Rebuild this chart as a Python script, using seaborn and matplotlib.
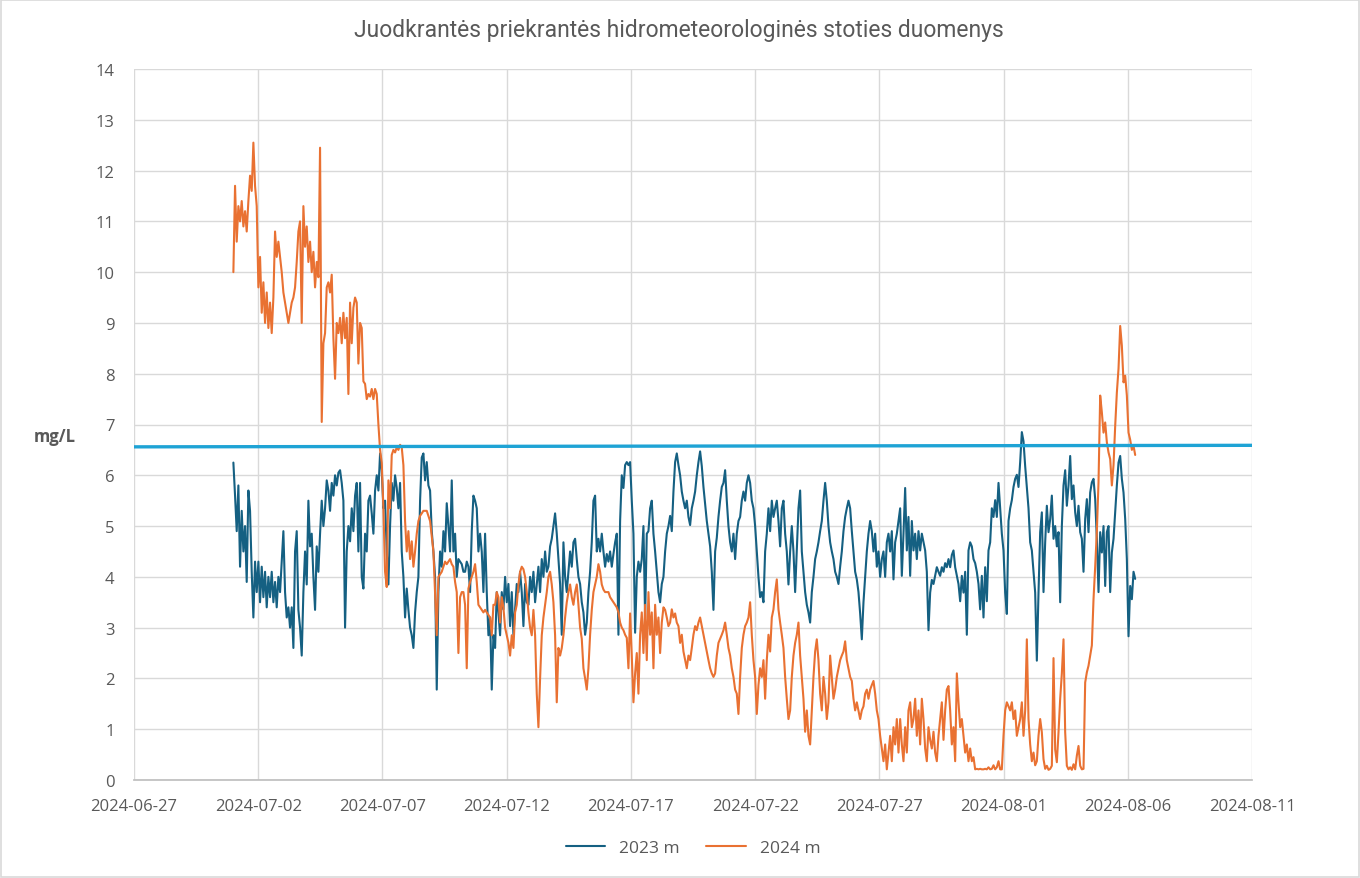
import pandas as pd
import matplotlib
matplotlib.use('Agg')
import matplotlib.pyplot as plt
import matplotlib.dates as mdates
from matplotlib.patches import Rectangle
from matplotlib import font_manager
import seaborn as sns

# ištirpusio deguonies matavimai, mg/L (nuskaityta nuo grafiko)
start_time = '2024-07-01 00:00'
step_seconds = 5797

values_2023 = [
    6.25, 5.6, 4.9, 5.8, 4.2, 5.3, 4.5, 5.0, 3.9, 5.7, 5.3, 4.1, 3.2, 4.3, 3.7, 4.3, 3.5, 4.2, 3.6, 4.1,
    3.4, 4.0, 3.6, 4.1, 3.5, 3.9, 3.4, 4.0, 3.7, 4.3, 4.9, 3.7, 3.2, 3.4, 3.0, 3.4, 2.6, 4.5, 4.9, 3.35,
    3.0, 2.45, 3.7, 4.5, 3.85, 5.5, 4.6, 4.85, 4.0, 3.35, 4.6, 4.1, 4.85, 5.5, 5.0, 5.35, 5.9, 5.7, 5.3, 5.85,
    5.6, 6.0, 5.8, 6.05, 6.1, 5.85, 5.5, 3.0, 4.5, 5.0, 4.7, 5.35, 4.9, 5.6, 5.85, 4.5,
    5.85, 4.0, 3.77, 4.85, 4.5, 5.5, 5.6, 5.25, 4.85, 5.7, 6.0, 5.7, 6.43, 6.1, 5.35, 5.5, 4.5, 3.85, 5.0, 5.85,
    5.5, 6.0, 5.75, 5.35, 5.85, 4.5, 4.0, 3.2, 3.77, 3.35, 3.0, 2.85, 2.6, 3.3, 3.7, 4.0, 5.5, 6.35, 6.43, 5.9,
    6.26, 5.8, 5.7, 4.9, 4.5, 4.0, 1.78, 3.7, 4.5, 4.2, 4.9, 4.5, 5.45, 5.0, 4.5, 5.9, 4.5, 4.85, 4.0, 4.35,
    4.3, 4.25, 4.1, 4.1, 4.3, 4.2, 3.7, 4.9, 5.6, 5.5, 5.35, 4.5, 4.85, 4.5, 3.7, 4.85, 3.7, 2.85, 3.2, 1.78, 2.85,
    2.6, 3.7, 3.3, 2.85, 3.7, 3.36, 4.0, 3.5, 3.86, 3.03, 3.7, 2.86, 3.36, 3.86, 3.7, 4.1, 3.7, 3.03, 3.86, 3.5,
    3.45, 4.0, 3.7, 4.1, 3.5, 3.86, 4.2, 3.7, 4.35, 4.0, 4.5, 4.1, 4.2, 4.6, 4.75, 5.0, 5.25, 4.85, 4.35, 3.86,
    2.86, 4.68, 4.0, 3.7, 4.1, 4.5, 4.2, 4.68, 4.75, 4.35, 4.0, 3.86, 3.5, 3.3, 2.86, 3.1, 3.7, 4.1, 4.68, 5.5,
    5.6, 4.5, 4.75, 4.5, 4.85, 4.5, 4.2, 4.45, 4.3, 4.5, 4.2, 4.45, 4.68, 4.85, 2.86, 5.1, 6.0, 5.75, 6.2, 6.26, 6.2,
    6.26, 5.5, 4.85, 2.9, 4.0, 4.3, 4.1, 4.35, 5.0, 3.2, 4.85, 4.9, 5.35, 5.5, 4.85, 4.5, 4.1, 3.7, 3.5, 3.86,
    4.0, 4.5, 4.85, 5.0, 5.2, 4.9, 5.68, 6.26, 6.43, 6.2, 6.0, 5.68, 5.5, 5.35, 5.5, 5.18, 5.02, 5.35, 5.5, 5.68,
    6.0, 6.26, 6.47, 6.18, 5.77, 5.43, 5.1, 4.85, 4.6, 4.1, 3.35, 4.5, 4.77, 5.18, 5.5, 5.77, 5.85, 6.1, 5.5, 5.0,
    4.68, 4.5, 4.85, 4.35, 4.85, 5.1, 5.18, 5.5, 5.68, 5.5, 5.85, 6.0, 5.85, 5.5, 5.35, 5.0, 4.5, 4.0, 3.6, 3.7, 3.5,
    4.5, 4.85, 5.35, 4.9, 5.5, 5.18, 5.35, 5.5, 5.1, 4.6, 5.35, 5.5, 4.85, 4.5, 3.85, 4.5, 5.0, 4.5, 3.7, 4.5,
    5.35, 5.7, 4.5, 4.1, 3.7, 3.45, 3.3, 3.1, 3.7, 4.0, 4.35, 4.5, 4.68, 4.9, 5.1, 5.5, 5.85, 5.5, 5.0, 4.68,
    4.5, 4.35, 4.1, 4.0, 3.86, 4.2, 4.5, 4.9, 5.18, 5.35, 5.5, 5.35, 4.9, 4.5, 4.1, 3.95, 3.7, 3.28, 2.77, 3.5,
    4.0, 4.5, 4.85, 5.1, 4.9, 4.5, 4.85, 4.2, 4.5, 4.0, 4.35, 4.5, 4.0, 4.68, 4.85, 4.5, 4.9, 3.95, 4.68, 4.85, 5.1,
    5.35, 4.02, 4.85, 5.75, 4.52, 5.18, 4.02, 5.1, 4.52, 4.85, 4.35, 4.9, 4.52, 4.85, 4.68, 4.52, 4.1, 2.95, 3.69, 3.94,
    3.86, 4.02, 4.19, 4.1, 4.02, 4.19, 4.1, 4.27, 4.19, 4.35, 4.19, 4.43, 4.52, 4.19, 4.02, 3.86, 3.52, 4.02, 3.69, 4.1,
    2.86, 4.52, 4.68, 4.6, 4.35, 4.27, 4.1, 3.86, 3.36, 4.02, 3.2, 4.19, 3.52, 4.52, 4.68, 5.35, 5.18, 5.51, 5.18, 5.85,
    5.35, 4.85, 4.52, 3.69, 3.27, 5.1, 5.35, 5.51, 5.77, 5.93, 6.01, 5.77, 6.26, 6.85, 6.67, 6.18, 5.77, 5.35, 4.68, 4.52,
    4.1, 3.69, 2.35, 3.69,
    4.88, 5.27, 3.7, 4.68, 5.4, 4.88, 5.14, 5.6, 4.75, 5.0, 4.6, 4.88, 3.5, 5.0, 5.8, 6.1, 5.4, 5.8, 6.38, 5.53,
    5.8, 5.27, 5.0, 5.4, 4.88, 4.75, 4.1, 5.14, 5.53, 4.88, 5.66, 5.86, 5.93, 5.53, 4.75, 3.7, 4.88, 4.48, 5.0, 3.82,
    4.88, 5.0, 3.7, 4.48, 4.75, 5.27, 5.8, 6.25, 6.38, 5.93, 5.66, 5.14, 4.35, 2.83, 3.82, 3.56, 4.1, 3.96,
]

values_2024 = [
    10.0, 11.7, 10.6, 11.3, 11.0, 11.4, 10.9, 11.2, 10.8, 11.4, 11.9, 11.6, 12.55, 11.7, 11.3, 9.7, 10.3, 9.2, 9.8, 9.0,
    9.6, 8.9, 9.4, 8.8, 9.5, 10.8, 10.3, 10.6, 10.3, 10.0, 9.6, 9.4, 9.2, 9.0, 9.2, 9.4, 9.5, 9.7, 10.2, 10.8,
    11.0, 9.0, 11.3, 10.5, 10.9, 10.2, 10.6, 10.0, 10.4, 9.7, 10.2, 9.9, 12.45, 7.05, 8.6, 8.8, 9.7, 9.8, 9.6, 9.95,
    8.7, 7.9, 9.0, 8.8, 9.1, 8.6, 9.2, 8.7, 9.1, 7.6, 9.4, 8.6, 9.3, 9.5, 9.4, 8.2,
    9.0, 8.9, 7.85, 7.8, 7.5, 7.6, 7.55, 7.7, 7.5, 7.7, 7.6, 7.0, 6.5, 6.25, 5.35, 4.1, 3.8, 5.9, 5.35, 6.4,
    6.5, 6.45, 6.55, 6.5, 6.6, 6.55, 6.2, 5.1, 4.5, 4.9, 4.35, 4.7, 4.2, 4.5, 4.85, 5.1, 5.2, 5.25, 5.3, 5.3,
    5.3, 5.2, 5.1, 4.8, 4.5, 3.7, 2.85, 4.0, 4.05, 4.1, 4.2, 4.3, 4.25, 4.3, 4.35, 4.25, 4.2, 3.9, 3.7, 2.5,
    3.6, 3.7, 3.7, 3.45, 2.2, 3.77, 3.9, 4.0, 4.1, 4.25, 3.9, 3.45, 3.4, 3.35, 3.3, 3.35, 3.3, 3.25, 3.2, 2.85, 3.45,
    3.45, 3.7, 3.6, 3.1, 3.6, 3.4, 3.0, 2.85, 2.7, 2.45, 2.85, 2.6, 3.3, 3.45, 3.85, 4.1, 4.2, 4.15, 4.0, 3.7,
    3.3, 3.0, 2.85, 3.35, 2.85, 1.7, 1.04, 2.0, 2.85, 3.2, 3.45, 3.7, 4.0, 4.1, 3.85, 3.5, 2.85, 1.53, 2.6, 2.45,
    2.6, 2.85, 3.2, 3.5, 3.7, 3.85, 3.6, 3.45, 3.7, 3.85, 3.45, 3.0, 2.78, 2.2, 2.0, 1.78, 2.2, 2.86, 3.35, 3.7,
    3.85, 4.0, 4.25, 4.1, 3.85, 3.75, 3.7, 3.7, 3.7, 3.6, 3.55, 3.5, 3.45, 3.4, 3.3, 3.1, 3.0, 2.95, 2.86, 2.8, 2.2,
    3.28, 2.45, 1.53, 2.1, 2.5, 1.7, 2.86, 3.3, 2.5, 3.45, 2.36, 3.7, 2.86, 3.3, 2.2, 3.45, 2.86, 3.2, 2.5, 3.1,
    3.4, 3.35, 3.2, 3.03, 3.1, 3.36, 3.2, 3.28, 3.1, 3.03, 2.7, 2.86, 2.53, 2.36, 2.2, 2.45, 2.36, 2.6, 2.86, 3.03,
    2.95, 3.1, 3.2, 3.03, 2.86, 2.7, 2.53, 2.36, 2.2, 2.1, 2.03, 2.1, 2.45, 2.7, 2.78, 2.86, 2.95, 3.1, 2.86, 2.6,
    2.45, 2.2, 2.03, 1.78, 1.7, 1.3, 2.03, 2.6, 2.86, 3.03, 3.1, 3.2, 3.5, 2.86, 2.36, 2.03, 1.3, 1.87, 2.2, 2.03, 2.36,
    1.6, 2.36, 2.86, 2.53, 3.2, 3.36, 3.7, 3.95, 3.36, 3.1, 2.86, 2.6, 2.03, 1.6, 1.2, 1.37, 2.03, 2.45, 2.7, 2.86,
    3.1, 2.45, 2.03, 1.6, 0.95, 1.37, 0.87, 0.7, 1.37, 2.03, 2.53, 2.77, 2.36, 1.7, 1.37, 2.03, 1.7, 1.2, 1.53, 2.45,
    2.03, 1.6, 1.78, 2.03, 2.2, 2.36, 2.45, 2.53, 2.73, 2.36, 2.2, 2.03, 1.95, 1.6, 1.37, 1.53, 1.37, 1.2, 1.37, 1.45,
    1.7, 1.78, 1.6, 1.78, 1.87, 1.95, 1.7, 1.37, 1.2, 0.87, 0.62, 0.37, 0.7, 0.21, 0.54, 0.87, 0.37, 1.04, 0.7, 1.2, 0.54,
    1.2, 0.7, 0.37, 1.04, 0.54, 1.37, 1.53, 1.04, 1.2, 1.6, 0.87, 1.37, 0.7, 1.6, 1.2, 0.62, 0.37, 1.04, 0.79, 0.62,
    0.95, 0.54, 0.37, 0.87, 1.2, 1.53, 0.79, 1.37, 1.78, 1.85, 1.37, 0.7, 1.04, 0.37, 2.1, 1.53, 1.04, 1.2, 0.87, 0.54,
    0.7, 0.37, 0.62, 0.37, 0.45, 0.21, 0.22, 0.21, 0.22, 0.21, 0.21, 0.22, 0.21, 0.25, 0.21, 0.22, 0.29, 0.21, 0.25, 0.37,
    0.21, 0.21, 0.87, 1.37, 1.53, 1.45, 1.37, 1.53, 1.2, 1.37, 0.87, 1.04, 1.2, 1.53, 0.87, 1.37, 2.77, 1.2, 0.7, 0.37,
    0.54, 0.29, 0.37, 0.87,
    1.2, 0.94, 0.41, 0.22, 0.28, 0.2, 0.22, 0.28, 2.4, 0.6, 0.35, 0.94, 1.6, 2.1, 2.77, 0.94, 0.28, 0.21, 0.25, 0.2,
    0.31, 0.21, 0.48, 0.67, 0.28, 0.21, 0.22, 1.92, 2.12, 2.25, 2.45, 2.65, 3.56, 4.2, 4.9, 5.86, 7.57, 7.24, 6.84, 7.04,
    6.65, 6.45, 6.32, 5.8, 6.2, 6.97, 7.63, 8.1, 8.94, 8.55, 7.83, 7.96, 7.57, 6.84, 6.7, 6.5, 6.58, 6.4,
]

# horizontali riba (šviesiai mėlyna linija)
limit_dates = ['2024-06-27', '2024-08-11']
limit_values = [6.56, 6.59]

series_names = ['2023 m', '2024 m']
colors = {'2023 m': '#156082', '2024 m': '#E97132'}
x_ticks = pd.date_range('2024-06-27', '2024-08-11', freq='5D')

n = len(values_2023)
times = pd.date_range(start_time, periods=n, freq=f'{step_seconds}s')
df = pd.DataFrame({
    'laikas': list(times) * 2,
    'reiksme': values_2023 + values_2024,
    'metai': [series_names[0]] * n + [series_names[1]] * n,
})

sns.set_theme(style='white')
plt.rcParams['font.family'] = ['Open Sans', 'DejaVu Sans']
names = {f.name for f in font_manager.fontManager.ttflist}
title_font = 'Liberation Sans Narrow' if 'Liberation Sans Narrow' in names else 'Roboto'

grey = '#595959'
fig = plt.figure(figsize=(13.6, 8.79), dpi=100)
ax = fig.add_axes([134 / 1360, 1 - 781 / 879, (1252 - 134) / 1360, (781 - 70) / 879])

sns.lineplot(data=df, x='laikas', y='reiksme', hue='metai', hue_order=series_names,
             palette=colors, linewidth=1.5, estimator=None, ax=ax)
sns.lineplot(x=pd.to_datetime(limit_dates), y=limit_values, color='#1EA3D5',
             linewidth=2.4, ax=ax, legend=False)

ax.set_xlim(x_ticks[0], x_ticks[-1])
ax.set_ylim(0, 14)
ax.set_yticks(range(0, 15))
ax.set_xticks(x_ticks)
ax.xaxis.set_major_formatter(mdates.DateFormatter('%Y-%m-%d'))
ax.grid(True, color='#D9D9D9', linewidth=1)
for side in ['left', 'top', 'right']:
    ax.spines[side].set_visible(False)
ax.spines['bottom'].set_color('#BFBFBF')
ax.tick_params(axis='both', length=0, labelcolor=grey, labelsize=12)
ax.tick_params(axis='y', pad=14)
ax.tick_params(axis='x', pad=13)
ax.set_xlabel('')
ax.set_ylabel('')

sns.move_legend(ax, 'center', bbox_to_anchor=(0.5, -0.096), ncol=2, frameon=False,
                title=None, fontsize=12.5, handlelength=2.3, columnspacing=1.5)
for t in ax.get_legend().get_texts():
    t.set_color(grey)

fig.text(679 / 1360, 1 - 31 / 879, 'Juodkrantės priekrantės hidrometeorologinės stoties duomenys',
         ha='center', va='center', fontsize=16.5, color=grey, family=[title_font, 'DejaVu Sans'])
fig.text(55 / 1360, 1 - 437 / 879, 'mg/L', ha='center', va='center', fontsize=12,
         fontweight='bold', color=grey)

fig.patches.append(Rectangle((0.0005, 0.0008), 0.999, 0.9985, transform=fig.transFigure,
                             fill=False, edgecolor='#D9D9D9', linewidth=1.2))

fig.savefig('out.png', dpi=100, facecolor='white')
